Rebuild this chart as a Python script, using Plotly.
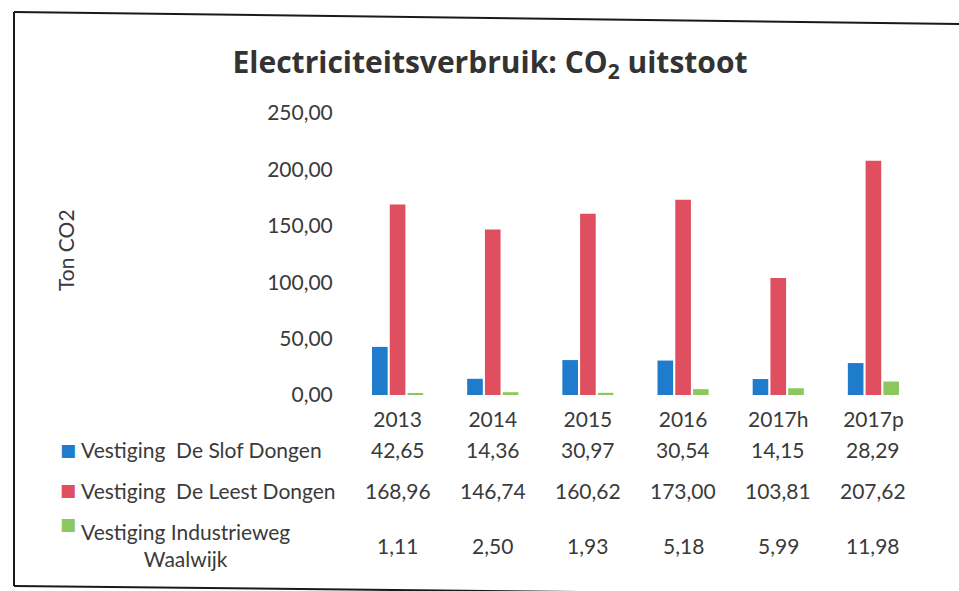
import plotly.graph_objects as go

categories = ["2013", "2014", "2015", "2016", "2017h", "2017p"]
series_names = ["Vestiging  De Slof Dongen", "Vestiging  De Leest Dongen", "Vestiging Industrieweg<br>Waalwijk"]
slof = [42.65, 14.36, 30.97, 30.54, 14.15, 28.29]
leest = [168.96, 146.74, 160.62, 173.00, 103.81, 207.62]
industrieweg = [1.11, 2.50, 1.93, 5.18, 5.99, 11.98]
colors = ["#1F7BCB", "#E04F5F", "#8CC85E"]
ytick_vals = [0, 50, 100, 150, 200, 250]

W, H = 959, 591
L, R, T, B = 350, 38, 113, 196
PW, PH = W - L - R, H - T - B

def px_x(px):
    return (px - L) / PW

def px_y(py):
    return (H - B - py) / PH

def fmt(v):
    return f"{v:.2f}".replace(".", ",")

FONT = "Lato, 'Open Sans', sans-serif"
TXT = "#3a3a3a"
FS = 21

fig = go.Figure()
for name, vals, col in zip(series_names, [slof, leest, industrieweg], colors):
    fig.add_trace(go.Bar(x=categories, y=vals, name=name, marker_color=col,
                         marker_line_width=0, showlegend=False))

# data table below the chart
row_y = [450, 490, 545]
for i, (name, vals, col) in enumerate(zip(series_names, [slof, leest, industrieweg], colors)):
    key_y = row_y[i] if i < 2 else 524
    fig.add_annotation(text="■", x=px_x(68), y=px_y(key_y), xref="paper", yref="paper",
                       showarrow=False, font=dict(size=17, color=col, family="DejaVu Sans"),
                       xanchor="center", yanchor="middle")
    fig.add_annotation(text=name, x=px_x(79), y=px_y(row_y[i]), xref="paper", yref="paper",
                       showarrow=False, align="center", xanchor="left", yanchor="middle",
                       font=dict(size=FS, color=TXT, family=FONT))
    for ci, v in enumerate(vals):
        fig.add_annotation(text=fmt(v), x=ci, y=px_y(row_y[i]), xref="x", yref="paper",
                           showarrow=False, xanchor="center", yanchor="middle",
                           font=dict(size=FS, color=TXT, family=FONT))

# y-axis title
fig.add_annotation(text="Ton CO2", x=px_x(65), y=px_y(250), xref="paper", yref="paper",
                   showarrow=False, textangle=-90, xanchor="center", yanchor="middle",
                   font=dict(size=FS, color=TXT, family=FONT))

# scanned frame
frame = dict(color="#1a1a1a", width=2)
fig.add_shape(type="line", xref="paper", yref="paper", x0=px_x(14), y0=px_y(12), x1=px_x(959), y1=px_y(24), line=frame)
fig.add_shape(type="line", xref="paper", yref="paper", x0=px_x(14), y0=px_y(12), x1=px_x(14), y1=px_y(586), line=frame)
fig.add_shape(type="line", xref="paper", yref="paper", x0=px_x(14), y0=px_y(586), x1=px_x(959), y1=px_y(596), line=frame)

fig.update_layout(
    width=W, height=H,
    margin=dict(l=L, r=R, t=T, b=B, autoexpand=False),
    paper_bgcolor="white", plot_bgcolor="white",
    separators=",.",
    barmode="group", bargap=0.44, bargroupgap=0.12,
    font=dict(family=FONT, color=TXT, size=FS),
    title=dict(text="<b>Electriciteitsverbruik: CO<sub>2</sub> uitstoot</b>",
               x=490 / W, xanchor="center", y=1 - 62 / H, yanchor="middle",
               font=dict(size=30, color="#333333", family="'Open Sans', Lato, sans-serif")),
    xaxis=dict(type="category", range=[-0.5, len(categories) - 0.5], showgrid=False,
               showline=False, zeroline=False, ticks="outside",
               ticklen=6, tickcolor="rgba(0,0,0,0)", tickfont=dict(size=FS, color=TXT),
               automargin=False),
    yaxis=dict(range=[0, 250], tickvals=ytick_vals, tickformat=".2f", showgrid=False,
               showline=False, zeroline=False, ticks="outside", ticklen=12,
               tickcolor="rgba(0,0,0,0)", tickfont=dict(size=FS, color=TXT),
               automargin=False),
)

fig.write_html("out.html", config={"displayModeBar": False},
               post_script="document.body.style.margin='0';")
